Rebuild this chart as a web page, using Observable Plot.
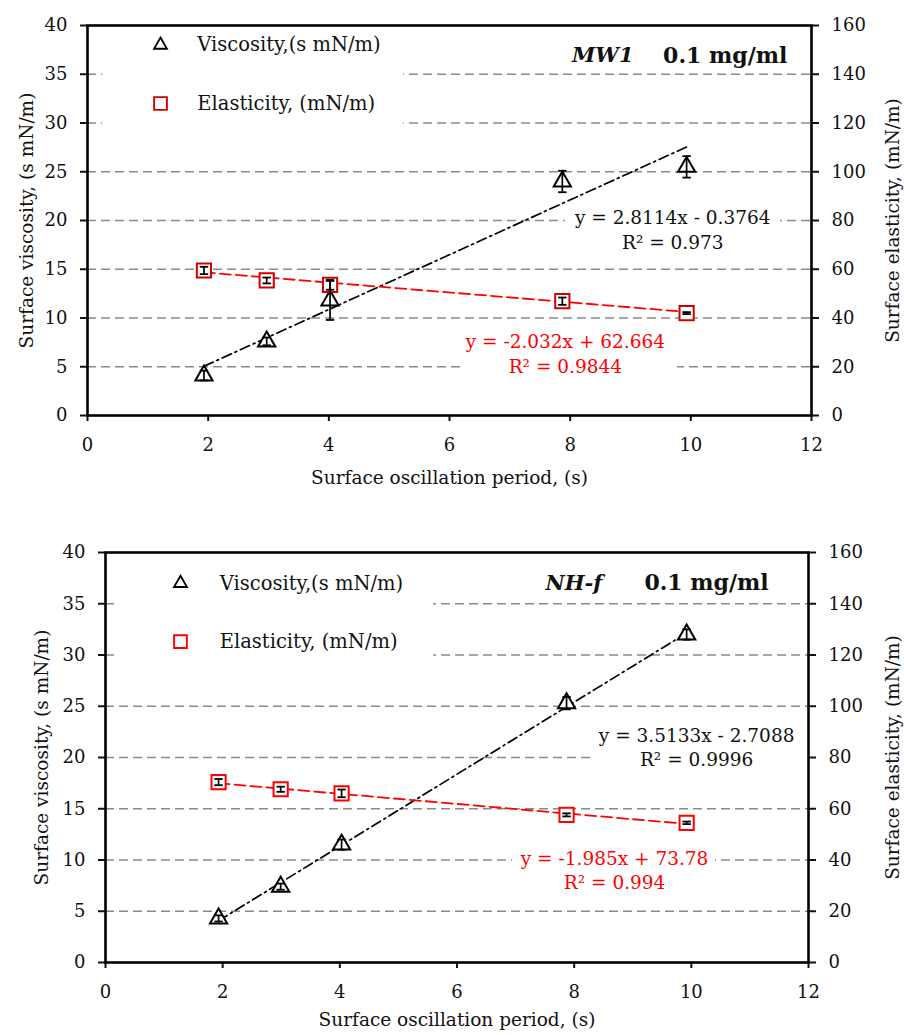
<!DOCTYPE html>
<html><head><meta charset="utf-8">
<script src="https://cdn.jsdelivr.net/npm/d3@7"></script>
<script src="https://cdn.jsdelivr.net/npm/@observablehq/plot@0.6"></script>
<style>
body{margin:0;background:#fff;}
#chart svg{display:block;}
</style>
</head><body><div id="chart"></div>
<script>
// ---------- data ----------
const xTicks = [0, 2, 4, 6, 8, 10, 12];
const yLeftTicks = [0, 5, 10, 15, 20, 25, 30, 35, 40];
const yRightTicks = [0, 20, 40, 60, 80, 100, 120, 140, 160];
const gridValues = [5, 10, 15, 20, 25, 30, 35];

// Panel 1: MW1
const periods1 = [1.93, 2.97, 4.02, 7.87, 9.93];
const viscosity1 = [4.1, 7.6, 11.8, 24.0, 25.5];
const viscosityErr1 = [0.5, 0.4, 2.0, 1.1, 1.1];
const elasticity1 = [59.5, 55.4, 53.6, 46.9, 42.0];
const elasticityErr1 = [1.5, 1.2, 2.0, 1.5, 0.4];
const viscFit1 = [2.8114, -0.3764];   // slope, intercept
const elasFit1 = [-2.032, 62.664];
const viscEq1 = ["y = 2.8114x - 0.3764", "R² = 0.973"];
const elasEq1 = ["y = -2.032x + 62.664", "R² = 0.9844"];
const sample1 = "MW1";

// Panel 2: NH-f
const periods2 = [1.93, 2.99, 4.03, 7.87, 9.92];
const viscosity2 = [4.3, 7.4, 11.5, 25.3, 32.0];
const viscosityErr2 = [0.3, 0.3, 0.5, 0.6, 0.5];
const elasticity2 = [70.4, 67.6, 66.0, 57.6, 54.5];
const elasticityErr2 = [1.2, 1.0, 1.5, 0.6, 0.5];
const viscFit2 = [3.5133, -2.7088];
const elasFit2 = [-1.985, 73.78];
const viscEq2 = ["y = 3.5133x - 2.7088", "R² = 0.9996"];
const elasEq2 = ["y = -1.985x + 73.78", "R² = 0.994"];
const sample2 = "NH-f";

const concentration = "0.1 mg/ml";
const legendLabels = ["Viscosity,(s mN/m)", "Elasticity, (mN/m)"];
const xLabel = "Surface oscillation period, (s)";
const yLeftLabel = "Surface viscosity, (s mN/m)";
const yRightLabel = "Surface elasticity, (mN/m)";

// ---------- drawing ----------
const FONT = "DejaVu Serif";
const TICK_FS = 18;
const LABEL_FS = 18.5;
const ratio = yRightTicks[yRightTicks.length - 1] / yLeftTicks[yLeftTicks.length - 1];
const rightLabelAt = new Map(yRightTicks.map(v => [v / ratio, String(v)]));
const capSymbol = {draw(ctx, size) { const r = Math.sqrt(size / Math.PI); ctx.moveTo(-r, 0); ctx.lineTo(r, 0); }};

function panel(cfg) {
  const rows = cfg.periods.map((x, i) => ({
    x, v: cfg.visc[i], ve: cfg.viscErr[i], e: cfg.elas[i] / ratio, ee: cfg.elasErr[i] / ratio
  }));
  const xs = d3.extent(cfg.periods);
  const viscLine = xs.map(x => ({x, y: cfg.viscFit[0] * x + cfg.viscFit[1]}));
  const elasLine = xs.map(x => ({x, y: (cfg.elasFit[0] * x + cfg.elasFit[1]) / ratio}));
  const L = cfg.lay;
  const caps = rows.flatMap(d => [
    {x: d.x, y: d.v - d.ve}, {x: d.x, y: d.v + d.ve},
    {x: d.x, y: d.e - d.ee}, {x: d.x, y: d.e + d.ee}
  ]);
  return Plot.plot({
    width: 904, height: L.height,
    marginLeft: L.ml, marginRight: L.mr, marginTop: L.mt, marginBottom: L.mb,
    style: {fontFamily: FONT, fontSize: TICK_FS + "px", color: "#111", background: "white"},
    x: {domain: [0, 12]},
    y: {domain: [0, 40]},
    marks: [
      Plot.ruleY(gridValues, {stroke: "#8a8a8a", strokeWidth: 1.7, strokeDasharray: "9,5"}),
      Plot.rect(L.boxes, {x1: "x1", x2: "x2", y1: "y1", y2: "y2", fill: "white"}),
      Plot.line(viscLine, {x: "x", y: "y", stroke: "black", strokeWidth: 1.7, strokeDasharray: "10,4,2,4"}),
      Plot.line(elasLine, {x: "x", y: "y", stroke: "#ff0000", strokeWidth: 1.8, strokeDasharray: "11,5"}),
      Plot.dot(rows, {x: "x", y: "v", symbol: "triangle", r: 6.4, stroke: "black", fill: "white", strokeWidth: 2}),
      Plot.dot(rows, {x: "x", y: "e", symbol: "square", r: 8, stroke: cfg.squareColor, fill: "white", strokeWidth: 2}),
      Plot.ruleX(rows, {x: "x", y1: d => d.v - d.ve, y2: d => d.v + d.ve, stroke: "black", strokeWidth: 1.7}),
      Plot.ruleX(rows, {x: "x", y1: d => d.e - d.ee, y2: d => d.e + d.ee, stroke: "black", strokeWidth: 1.7}),
      Plot.dot(caps, {x: "x", y: "y", symbol: capSymbol, r: 4.2, stroke: "black", fill: "none", strokeWidth: 1.8}),
      // legend
      Plot.dot([L.legend[0]], {x: "sx", y: "y", symbol: "triangle", r: 4.8, stroke: "black", fill: "white", strokeWidth: 1.8}),
      Plot.dot([L.legend[1]], {x: "sx", y: "y", symbol: "square", r: 7.2, stroke: cfg.squareColor, fill: "white", strokeWidth: 1.9}),
      Plot.text(L.legend, {x: "tx", y: "y", text: (d, i) => legendLabels[i], textAnchor: "start", fontSize: 19.5, fill: "#111"}),
      // title
      Plot.text([concentration], {x: L.title.x2, y: L.title.y, textAnchor: "end", fontWeight: "bold", fontSize: 22, fill: "#111"}),
      Plot.text([cfg.sample], {x: L.title.x1, y: L.title.y, textAnchor: "end", fontWeight: "bold", fontStyle: "italic", fontSize: 21, fill: "#111"}),
      // equations
      Plot.text(cfg.viscEq, {x: L.veq.x, y: (d, i) => L.veq.y[i], fontSize: 18.5, fill: "#111"}),
      Plot.text(cfg.elasEq, {x: L.eeq.x, y: (d, i) => L.eeq.y[i], fontSize: 18.5, fill: "#ff0000"}),
      // axes
      Plot.axisX(xTicks, {tickSize: 6, tickPadding: 17, strokeWidth: 2, fontSize: TICK_FS, label: null}),
      Plot.axisY(yLeftTicks, {anchor: "left", tickSize: 7, tickPadding: 13, strokeWidth: 2, fontSize: TICK_FS, label: null}),
      Plot.axisY(yRightTicks.map(v => v / ratio), {anchor: "right", tickSize: 7, tickPadding: 13, strokeWidth: 2, fontSize: TICK_FS, label: null, tickFormat: d => rightLabelAt.get(d)}),
      Plot.text([xLabel], {frameAnchor: "bottom", dy: L.xlabDy, fontSize: LABEL_FS, fill: "#111"}),
      Plot.text([yLeftLabel], {frameAnchor: "left", textAnchor: "middle", rotate: -90, dx: L.ylDx, fontSize: LABEL_FS, fill: "#111"}),
      Plot.text([yRightLabel], {frameAnchor: "right", textAnchor: "middle", rotate: -90, dx: L.yrDx, fontSize: LABEL_FS, fill: "#111"}),
      Plot.frame({stroke: "black", strokeWidth: 2.6})
    ]
  });
}

const chart = document.getElementById("chart");
chart.append(panel({
  periods: periods1, visc: viscosity1, viscErr: viscosityErr1, elas: elasticity1, elasErr: elasticityErr1,
  viscFit: viscFit1, elasFit: elasFit1, viscEq: viscEq1, elasEq: elasEq1, sample: sample1, squareColor: "#d00000",
  lay: {
    height: 500, ml: 87, mr: 93, mt: 25, mb: 85,
    boxes: [
      {x1: 0.25, x2: 5.24, y1: 27.5, y2: 39.5},
      {x1: 7.92, x2: 11.49, y1: 16.4, y2: 21.5},
      {x1: 6.22, x2: 9.78, y1: 3.8, y2: 8.8}
    ],
    legend: [{sx: 1.21, tx: 1.82, y: 38.0}, {sx: 1.21, tx: 1.82, y: 32.0}],
    title: {x1: 9.05, x2: 11.6, y: 36.9},
    veq: {x: 9.7, y: [20.2, 17.7]},
    eeq: {x: 7.92, y: [7.5, 5.0]},
    xlabDy: 68, ylDx: -60, yrDx: 82
  }
}));
chart.append(panel({
  periods: periods2, visc: viscosity2, viscErr: viscosityErr2, elas: elasticity2, elasErr: elasticityErr2,
  viscFit: viscFit2, elasFit: elasFit2, viscEq: viscEq2, elasEq: elasEq2, sample: sample2, squareColor: "#ff0000",
  lay: {
    height: 535, ml: 105, mr: 96, mt: 52, mb: 73,
    boxes: [
      {x1: 0.22, x2: 5.6, y1: 27.5, y2: 39.5},
      {x1: 8.36, x2: 12, y1: 18.3, y2: 23.8},
      {x1: 6.95, x2: 10.41, y1: 6.5, y2: 11.3}
    ],
    legend: [{sx: 1.28, tx: 1.95, y: 37.0}, {sx: 1.28, tx: 1.95, y: 31.3}],
    title: {x1: 8.48, x2: 11.32, y: 37.0},
    veq: {x: 10.09, y: [22.05, 19.7]},
    eeq: {x: 8.69, y: [10.05, 7.7]},
    xlabDy: 63, ylDx: -63, yrDx: 85
  }
}));
</script>
</body></html>
